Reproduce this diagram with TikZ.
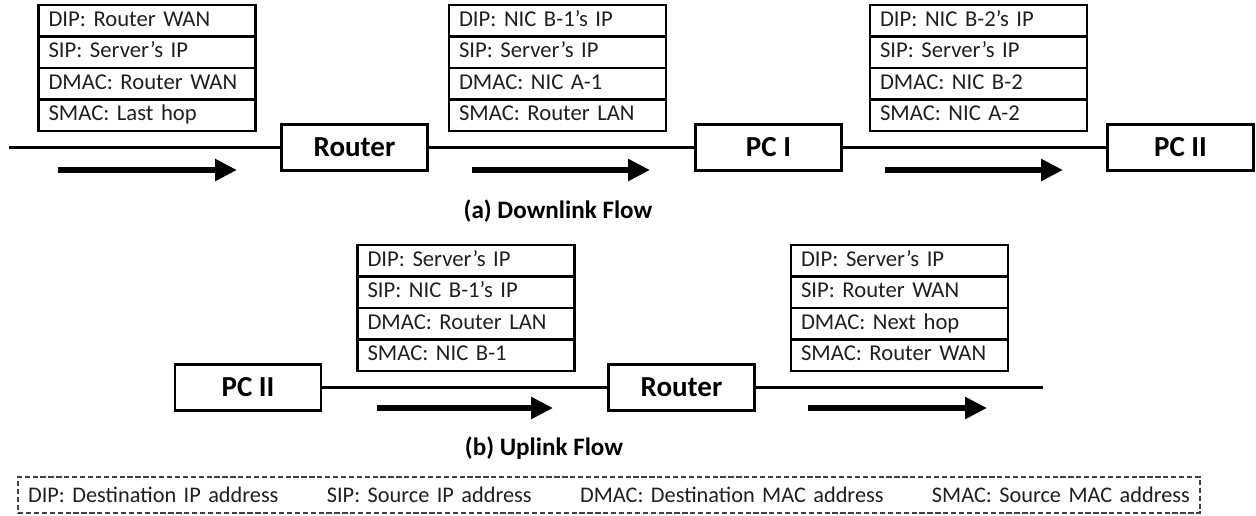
\documentclass[tikz,border=0pt]{standalone}
\usepackage{fontspec}
\setmainfont{Carlito}
\usepackage{xcolor}
\definecolor{textgray}{rgb}{0.12,0.12,0.12}
\usetikzlibrary{positioning,arrows.meta}
\newcommand{\packet}[6]{
  \node (#1-dip) [field, #2] {DIP: #3};
  \node (#1-sip) [field, below=0pt of #1-dip] {SIP: #4};
  \node (#1-dmac) [field, below=0pt of #1-sip] {DMAC: #5};
  \node (#1-smac) [field, below=0pt of #1-dmac] {SMAC: #6};}
\tikzstyle{device}=[rectangle, draw=black, line width=1.6pt, minimum width=2.92cm, minimum height=0.93cm,
        inner sep=0pt, font=\fontsize{16.5}{19}\selectfont\bfseries]
\tikzstyle{field}=[rectangle, draw=black, line width=1.5pt, outer sep=0pt, minimum height=0.63cm,
        text width=3.94cm, inner xsep=0.2cm, inner ysep=0pt, align=left, text height=9pt, text depth=3pt,
        text=textgray, font=\fontsize{12.9}{15}\selectfont]
\tikzstyle{wire}=[line width=1.5pt]
\tikzstyle{flow}=[line width=3.4pt, -{Triangle[length=0.44cm,width=0.42cm]}]
\tikzstyle{flowtitle}=[font=\fontsize{14.3}{17}\selectfont\bfseries]
\tikzstyle{keybox}=[draw=black!75, dash pattern=on 3pt off 1.5pt, line width=0.8pt, minimum width=23.64cm,
        minimum height=0.72cm, inner xsep=0.2cm, text width=23.24cm, text=textgray,
        font=\fontsize{12.7}{15}\selectfont]

\begin{document}
\begin{tikzpicture}[x=0.02cm, y=-0.02cm]
\useasboundingbox (0,0) rectangle (1256,515);

% (a) downlink
\node (RouterA) [device] at (354.5,147.5) {Router};
\node (PCIA) [device] at (768.5,147.5) {PC I};
\node (PCIIA) [device] at (1180.5,147.5) {PC II};
\coordinate (WanA) at (9,147.5);

\packet{PktA}{at={(147,5)}, anchor=north}{Router WAN}{Server’s IP}{Router WAN}{Last hop}
\packet{PktB}{at={(557.5,5)}, anchor=north}{NIC B-1’s IP}{Server’s IP}{NIC A-1}{Router LAN}
\packet{PktC}{at={(978.5,5)}, anchor=north}{NIC B-2’s IP}{Server’s IP}{NIC B-2}{NIC A-2}

\draw[wire] (WanA) -- (RouterA.west);
\draw[wire] (RouterA.east) -- (PCIA.west);
\draw[wire] (PCIA.east) -- (PCIIA.west);

\coordinate (FlowA1) at (58,170);
\coordinate (FlowA2) at (472,170);
\coordinate (FlowA3) at (885,170);
\draw[flow] (FlowA1) -- ++(179,0);
\draw[flow] (FlowA2) -- ++(178,0);
\draw[flow] (FlowA3) -- ++(178,0);

\node (TitleA) [flowtitle] at (558,211) {(a) Downlink Flow};

% (b) uplink
\node (PCIIB) [device] at (248,387.5) {PC II};
\node (RouterB) [device] at (681.5,387.5) {Router};
\coordinate (WanB) at (1043,387.5);

\packet{PktD}{at={(466,245)}, anchor=north}{Server’s IP}{NIC B-1’s IP}{Router LAN}{NIC B-1}
\packet{PktE}{at={(899.5,245)}, anchor=north}{Server’s IP}{Router WAN}{Next hop}{Router WAN}

\draw[wire] (PCIIB.east) -- (RouterB.west);
\draw[wire] (RouterB.east) -- (WanB);

\coordinate (FlowB1) at (377,408);
\coordinate (FlowB2) at (808,408);
\draw[flow] (FlowB1) -- ++(176,0);
\draw[flow] (FlowB2) -- ++(179,0);

\node (TitleB) [flowtitle] at (544,448) {(b) Uplink Flow};

% abbreviations
\node (Key) [keybox] at (609,495) {DIP: Destination IP address\hfill SIP: Source IP address\hfill
  DMAC: Destination MAC address\hfill SMAC: Source MAC address};

\end{tikzpicture}
\end{document}
